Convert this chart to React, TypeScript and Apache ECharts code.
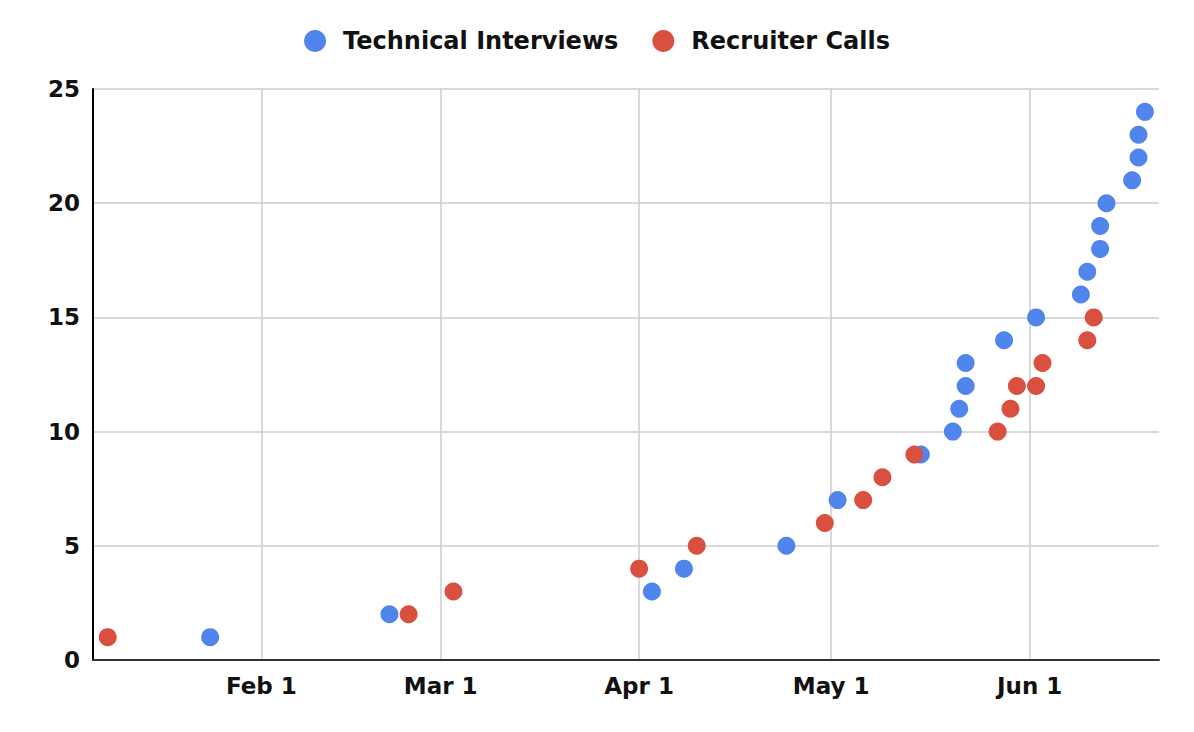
import React, { useEffect, useRef } from "react";
import * as echarts from "echarts";

const seriesNames = ["Technical Interviews", "Recruiter Calls"];
const seriesColors = ["#5086ec", "#d95040"];

const interviewDates = [
  "2023-01-24", "2023-02-21", "2023-04-03", "2023-04-08", "2023-04-24",
  "2023-05-02", "2023-05-15", "2023-05-20", "2023-05-21", "2023-05-22",
  "2023-05-22", "2023-05-28", "2023-06-02", "2023-06-09", "2023-06-10",
  "2023-06-12", "2023-06-12", "2023-06-13", "2023-06-17", "2023-06-18",
  "2023-06-18", "2023-06-19",
];
const interviewCounts = [1, 2, 3, 4, 5, 7, 9, 10, 11, 12, 13, 14, 15, 16, 17, 18, 19, 20, 21, 22, 23, 24];

const callDates = [
  "2023-01-08", "2023-02-24", "2023-03-03", "2023-04-01", "2023-04-10",
  "2023-04-30", "2023-05-06", "2023-05-09", "2023-05-14", "2023-05-27",
  "2023-05-29", "2023-05-30", "2023-06-02", "2023-06-03", "2023-06-10",
  "2023-06-11",
];
const callCounts = [1, 2, 3, 4, 5, 6, 7, 8, 9, 10, 11, 12, 12, 13, 14, 15];

const xTickDates = ["2023-02-01", "2023-03-01", "2023-04-01", "2023-05-01", "2023-06-01"];
const xTickLabels = ["Feb 1", "Mar 1", "Apr 1", "May 1", "Jun 1"];
const xRangeStart = "2023-01-05";
const xRangeEnd = "2023-06-21";
const yTicks = [0, 5, 10, 15, 20, 25];

const BASE = Date.UTC(2023, 0, 1);
const dayOf = (s: string) => (Date.parse(s + "T00:00:00Z") - BASE) / 86400000;

const FONT = "DejaVu Sans";

export default function App() {
  const ref = useRef<HTMLDivElement>(null);
  useEffect(() => {
    document.body.style.margin = "0";
    if (!ref.current) return;
    const chart = echarts.init(ref.current, undefined, { renderer: "svg" });
    const tickDays = xTickDates.map(dayOf);
    const labelFor = (v: number) => {
      const i = tickDays.findIndex((d) => Math.abs(d - v) < 0.01);
      return i >= 0 ? xTickLabels[i] : "";
    };
    chart.setOption({
      animation: false,
      backgroundColor: "#ffffff",
      color: seriesColors,
      legend: {
        top: 24,
        left: "center",
        icon: "circle",
        itemWidth: 22,
        itemHeight: 22,
        itemGap: 34,
        textStyle: {
          fontFamily: FONT,
          fontWeight: "bold",
          fontSize: 24,
          color: "#111111",
          padding: [0, 0, 0, 12],
        },
        data: seriesNames,
      },
      grid: { left: 93, right: 35, top: 89, bottom: 72, containLabel: false },
      xAxis: {
        type: "value",
        min: dayOf(xRangeStart) + 0.7,
        max: dayOf(xRangeEnd) + 0.2,
        axisLine: { show: true, onZero: false, lineStyle: { color: "#333333", width: 2 } },
        axisTick: { show: false, customValues: tickDays },
        axisLabel: {
          customValues: tickDays,
          formatter: (v: number) => labelFor(v),
          fontFamily: FONT,
          fontWeight: "bold",
          fontSize: 23,
          color: "#111111",
          margin: 14,
        },
        splitLine: { show: true, lineStyle: { color: "#cccccc", width: 1.5 } },
      },
      yAxis: {
        type: "value",
        min: yTicks[0],
        max: yTicks[yTicks.length - 1],
        interval: 5,
        axisLine: { show: true, lineStyle: { color: "#000000", width: 2 } },
        axisTick: { show: false },
        axisLabel: {
          fontFamily: FONT,
          fontWeight: "bold",
          fontSize: 23,
          color: "#111111",
          margin: 13,
        },
        splitLine: { show: true, lineStyle: { color: "#cccccc", width: 1.5 } },
      },
      series: [
        {
          name: seriesNames[0],
          type: "scatter",
          symbolSize: 18,
          data: interviewDates.map((d, i) => [dayOf(d), interviewCounts[i]]),
          itemStyle: { color: seriesColors[0], opacity: 1 },
        },
        {
          name: seriesNames[1],
          type: "scatter",
          symbolSize: 18,
          data: callDates.map((d, i) => [dayOf(d), callCounts[i]]),
          itemStyle: { color: seriesColors[1], opacity: 1 },
        },
      ],
    });
    return () => chart.dispose();
  }, []);
  return <div ref={ref} style={{ width: 1194, height: 732 }} />;
}
